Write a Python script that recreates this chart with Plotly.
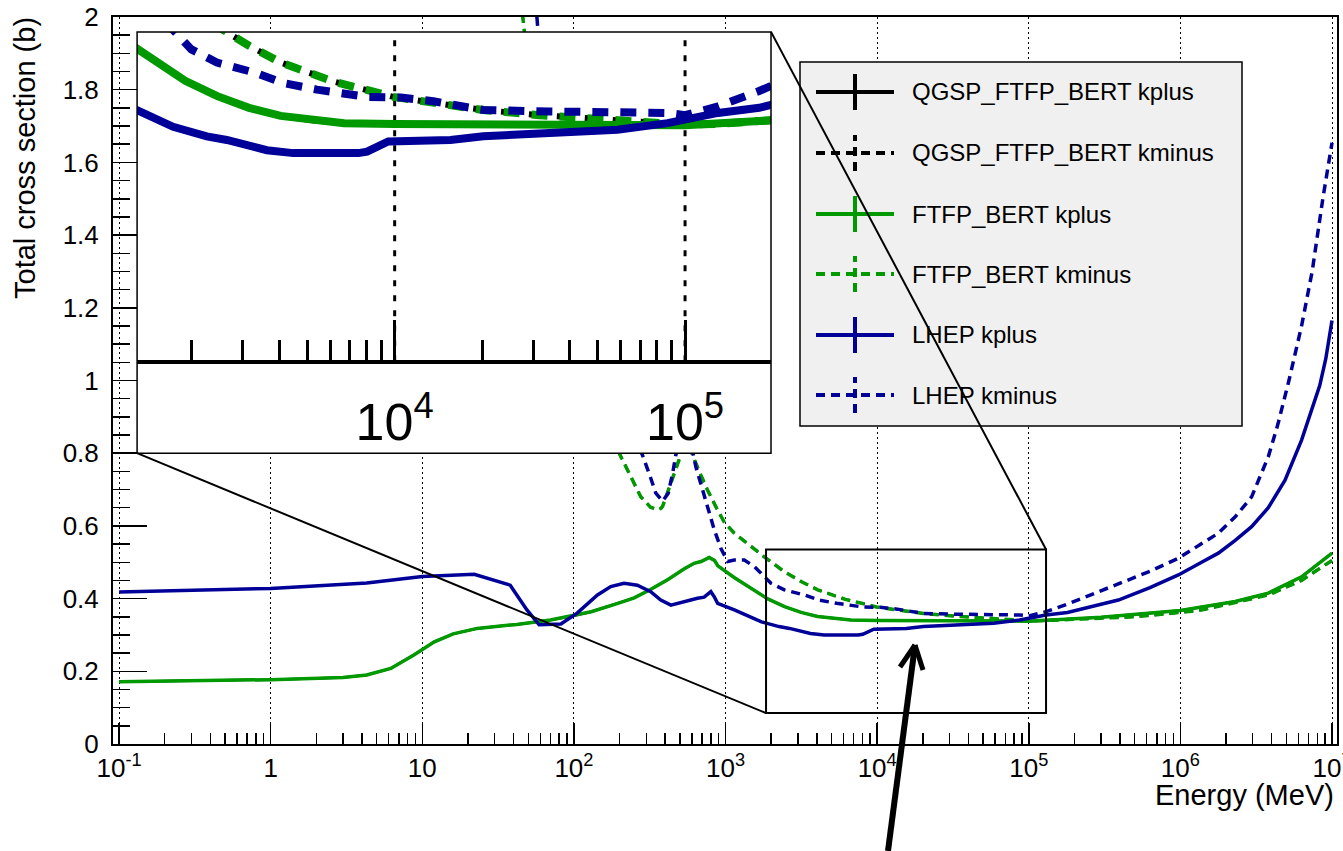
import math
import plotly.graph_objects as go

# ------------------------------------------------------------------
# Data (energy in MeV, total cross section in b)
# ------------------------------------------------------------------
E_ftfp_kplus = [0.1, 1, 3, 4.3, 6.2, 8.8, 12, 16, 23, 42, 70, 100, 130, 195, 250, 320,
                415, 535, 620, 690, 780, 845, 890, 1140, 1470, 1900, 2450, 3150, 4050,
                5200, 6700, 1e4, 3e4, 1e5, 3e5, 1e6, 2.3e6, 3.8e6, 6.3e6, 1e7]
S_ftfp_kplus = [0.171, 0.177, 0.183, 0.190, 0.208, 0.245, 0.281, 0.303, 0.318, 0.329,
                0.341, 0.353, 0.364, 0.387, 0.402, 0.425, 0.452, 0.482, 0.497, 0.502,
                0.513, 0.505, 0.490, 0.458, 0.428, 0.399, 0.378, 0.362, 0.351, 0.345,
                0.341, 0.340, 0.340, 0.338, 0.349, 0.367, 0.392, 0.415, 0.460, 0.525]

E_ftfp_kminus = [0.1, 10, 35, 46, 55, 70, 100, 150, 199, 225, 276, 321, 365, 384, 414,
                 470, 507, 550, 590, 605, 687, 760, 885, 982, 1143, 1400, 1800, 2443,
                 3150, 4055, 6170, 9900, 1.36e4, 2.02e4, 3.16e4, 5.6e4, 1e5, 1.3e5, 2e5,
                 5e5, 1e6, 1.4e6, 3.8e6, 6.3e6, 1e7]
S_ftfp_kminus = [15, 4.5, 2.5, 2.0, 1.7, 1.4, 1.12, 0.92, 0.80, 0.754, 0.68, 0.651,
                 0.644, 0.653, 0.69, 0.757, 0.795, 0.87, 0.81, 0.795, 0.74, 0.699, 0.644,
                 0.61, 0.58, 0.55, 0.515, 0.474, 0.447, 0.424, 0.398, 0.377, 0.369,
                 0.359, 0.352, 0.346, 0.339, 0.340, 0.343, 0.350, 0.362, 0.369, 0.410,
                 0.450, 0.505]

E_lhep_kplus = [0.1, 1, 4.3, 10, 22, 38, 49, 59, 82, 105, 143, 175, 214, 262, 321, 374,
                436, 533, 653, 723, 800, 843, 887, 1143, 1294, 1726, 2254, 2642, 3631,
                4477, 7500, 8035, 9506, 1.556e4, 2.02e4, 3.44e4, 5.85e4, 8.7e4, 1e5,
                1.3e5, 1.8e5, 3.9e5, 6.3e5, 9.7e5, 1.38e6, 1.78e6, 2.3e6, 2.95e6, 3.8e6,
                4.9e6, 6.3e6, 7.4e6, 8.3e6, 9.1e6, 1e7]
S_lhep_kplus = [0.418, 0.428, 0.443, 0.461, 0.467, 0.437, 0.369, 0.328, 0.330, 0.360,
                0.410, 0.433, 0.442, 0.437, 0.419, 0.396, 0.382, 0.392, 0.401, 0.404,
                0.419, 0.405, 0.387, 0.369, 0.359, 0.336, 0.323, 0.318, 0.304, 0.300,
                0.300, 0.302, 0.316, 0.318, 0.323, 0.327, 0.332, 0.341, 0.346, 0.355,
                0.362, 0.396, 0.430, 0.465, 0.500, 0.525, 0.560, 0.598, 0.650, 0.726,
                0.836, 0.920, 0.986, 1.060, 1.165]

E_lhep_kminus = [0.1, 10, 40, 52, 57, 65, 80, 100, 150, 200, 250, 283, 313, 347, 384,
                 419, 448, 470, 525, 575, 637, 687, 760, 843, 933, 1033, 1143, 1330, 1550,
                 1714, 1995, 2443, 3311, 4130, 5400, 8035, 1.05e4, 1.36e4, 2.02e4, 3.44e4,
                 5.85e4, 8.7e4, 1e5, 1.3e5, 1.8e5, 3.9e5, 6.3e5, 9.7e5, 1.38e6, 1.78e6,
                 2.3e6, 2.95e6, 3.8e6, 4.4e6, 5.2e6, 6.3e6, 7.4e6, 8.7e6, 1e7]
S_lhep_kminus = [12, 4.0, 2.6, 2.2, 2.0, 1.7, 1.4, 1.2, 1.0, 0.9, 0.84, 0.795, 0.745,
                 0.69, 0.668, 0.69, 0.745, 0.795, 0.86, 0.85, 0.763, 0.717, 0.653, 0.589,
                 0.538, 0.502, 0.506, 0.506, 0.488, 0.470, 0.442, 0.424, 0.410, 0.396,
                 0.387, 0.377, 0.376, 0.371, 0.359, 0.357, 0.356, 0.355, 0.352, 0.364,
                 0.385, 0.440, 0.475, 0.511, 0.550, 0.580, 0.625, 0.680, 0.790, 0.880,
                 1.000, 1.150, 1.300, 1.500, 1.654]

# QGSP_FTFP_BERT coincides with FTFP_BERT and lies underneath it
E_qgsp_kplus, S_qgsp_kplus = E_ftfp_kplus, S_ftfp_kplus
E_qgsp_kminus, S_qgsp_kminus = E_ftfp_kminus, S_ftfp_kminus

series_names = ["QGSP_FTFP_BERT kplus", "QGSP_FTFP_BERT kminus",
                "FTFP_BERT kplus", "FTFP_BERT kminus",
                "LHEP kplus", "LHEP kminus"]

x_tickvals = [0.1, 1, 10, 100, 1e3, 1e4, 1e5, 1e6, 1e7]
x_ticktext = ["10<sup>-1</sup>", "1", "10", "10<sup>2</sup>", "10<sup>3</sup>",
              "10<sup>4</sup>", "10<sup>5</sup>", "10<sup>6</sup>", "10<sup>7</sup>"]
inset_tickvals = [1e4, 1e5]
inset_ticktext = ["10<sup>4</sup>", "10<sup>5</sup>"]

# ------------------------------------------------------------------
# Styles / layout constants
# ------------------------------------------------------------------
FONT = "Liberation Sans, Arial, Helvetica, sans-serif"
GREEN = "#009900"
BLUE = "#000099"
BLACK = "#000000"
MAIN_DASH = "9px,6px"
INSET_DASH = "16px,12px"

W, H = 1343, 851
ML, MR, MT, MB = 113, 6, 17, 107
X_RANGE_LOG = [-1.040, 7.033]
Y_RANGE = [0, 2]

# inset placement (corners given in main-plot data coordinates)
INSET_X = [0.1315, 1995.0]
INSET_Y = [0.80, 1.959]
INSET_X_RANGE_LOG = [3.113, 5.296]
INSET_Y_RANGE = [-0.111, 0.466]
INSET_AXIS_Y = 0.015

# zoom box in the main plot
ZOOM_X = [1850, 1.3e5]
ZOOM_Y = [0.085, 0.535]


def xpaper(v):
    return (math.log10(v) - X_RANGE_LOG[0]) / (X_RANGE_LOG[1] - X_RANGE_LOG[0])


def ypaper(v):
    return (v - Y_RANGE[0]) / (Y_RANGE[1] - Y_RANGE[0])


def pix(px, py):
    """pixel position of the page -> paper coordinates (for decorations)"""
    return (px - ML) / (W - ML - MR), (H - MB - py) / (H - MT - MB)


inset_xdom = [xpaper(INSET_X[0]), xpaper(INSET_X[1])]
inset_ydom = [ypaper(INSET_Y[0]), ypaper(INSET_Y[1])]
inset_axis_pos = inset_ydom[0] + (INSET_AXIS_Y - INSET_Y_RANGE[0]) / \
    (INSET_Y_RANGE[1] - INSET_Y_RANGE[0]) * (inset_ydom[1] - inset_ydom[0])

curves = [
    (E_qgsp_kplus, S_qgsp_kplus, BLACK, "solid"),
    (E_qgsp_kminus, S_qgsp_kminus, BLACK, "dash"),
    (E_ftfp_kplus, S_ftfp_kplus, GREEN, "solid"),
    (E_ftfp_kminus, S_ftfp_kminus, GREEN, "dash"),
    (E_lhep_kplus, S_lhep_kplus, BLUE, "solid"),
    (E_lhep_kminus, S_lhep_kminus, BLUE, "dash"),
]

fig = go.Figure()

for (name, (ex, sy, col, style)) in zip(series_names, curves):
    under = col == BLACK
    fig.add_trace(go.Scatter(
        x=ex, y=sy, mode="lines", name=name, showlegend=False,
        line=dict(color=col, width=2.5 if under else 3.5,
                  dash=MAIN_DASH if style == "dash" else "solid"),
        xaxis="x", yaxis="y", hoverinfo="skip"))

for (name, (ex, sy, col, style)) in zip(series_names, curves):
    under = col == BLACK
    fig.add_trace(go.Scatter(
        x=ex, y=sy, mode="lines", name=name, showlegend=False,
        line=dict(color=col, width=6 if under else 8,
                  dash=INSET_DASH if style == "dash" else "solid"),
        xaxis="x2", yaxis="y2", hoverinfo="skip"))

shapes = []

# inset grid lines (thick dotted)
for v in inset_tickvals:
    shapes.append(dict(type="line", xref="x2", yref="y2", x0=v, x1=v,
                       y0=INSET_AXIS_Y, y1=INSET_Y_RANGE[1], layer="below",
                       line=dict(color="black", width=3, dash="6px,9px")))

# inset frame
shapes.append(dict(type="rect", xref="paper", yref="paper",
                   x0=inset_xdom[0], x1=inset_xdom[1], y0=inset_ydom[0], y1=inset_ydom[1],
                   layer="above", line=dict(color="black", width=1.5)))

# zoom box in main plot
shapes.append(dict(type="rect", xref="x", yref="y", x0=ZOOM_X[0], x1=ZOOM_X[1],
                   y0=ZOOM_Y[0], y1=ZOOM_Y[1], layer="above",
                   line=dict(color="black", width=2)))

# legend box
LEG_X0, LEG_X1, LEG_Y0, LEG_Y1 = 800, 1242, 62, 426
lx0, ly0 = pix(LEG_X0, LEG_Y1)
lx1, ly1 = pix(LEG_X1, LEG_Y0)
shapes.append(dict(type="rect", xref="paper", yref="paper", x0=lx0, x1=lx1, y0=ly0, y1=ly1,
                   layer="above", fillcolor="#f0f0f0",
                   line=dict(color="black", width=1.5)))

annotations = []
LEG_ROWS = [92, 153, 214, 274, 335, 395]
for name, (ex, sy, col, style), ry in zip(series_names, curves, LEG_ROWS):
    dash = "9px,6px" if style == "dash" else "solid"
    ax0, ay = pix(816, ry)
    ax1, _ = pix(894, ry)
    vx, vy0 = pix(855, ry + 18)
    _, vy1 = pix(855, ry - 18)
    shapes.append(dict(type="line", xref="paper", yref="paper", x0=ax0, x1=ax1, y0=ay, y1=ay,
                       layer="above", line=dict(color=col, width=4, dash=dash)))
    shapes.append(dict(type="line", xref="paper", yref="paper", x0=vx, x1=vx, y0=vy0, y1=vy1,
                       layer="above", line=dict(color=col, width=4, dash=dash)))
    tx, ty = pix(910, ry)
    annotations.append(dict(text=name, xref="paper", yref="paper", x=tx, y=ty,
                            xanchor="left", yanchor="middle", showarrow=False,
                            font=dict(family=FONT, size=24, color="black")))

# connector lines from inset to zoom box
shapes.append(dict(type="line", xref="x", yref="y", x0=INSET_X[0], y0=INSET_Y[0],
                   x1=ZOOM_X[0], y1=ZOOM_Y[0], layer="above",
                   line=dict(color="black", width=2)))
shapes.append(dict(type="line", xref="x", yref="y", x0=INSET_X[1], y0=INSET_Y[1],
                   x1=ZOOM_X[1], y1=ZOOM_Y[1], layer="above",
                   line=dict(color="black", width=2)))

# arrow
tip = pix(915, 645)
tail = pix(888, 851)
armL = pix(900, 667)
armR = pix(923, 670)
for a, b, w in [(tail, tip, 6), (armL, tip, 5), (armR, tip, 5)]:
    shapes.append(dict(type="line", xref="paper", yref="paper", x0=a[0], y0=a[1],
                       x1=b[0], y1=b[1], layer="above",
                       line=dict(color="black", width=w)))

# axis titles
tx, ty = pix(25, 15)
annotations.append(dict(text="Total cross section (b)", xref="paper", yref="paper",
                        x=tx, y=ty, xanchor="center", yanchor="top", textangle=-90,
                        showarrow=False, font=dict(family=FONT, size=29, color="black")))
tx, ty = pix(1336, 795)
annotations.append(dict(text="Energy (MeV)", xref="paper", yref="paper",
                        x=tx, y=ty, xanchor="right", yanchor="middle",
                        showarrow=False, font=dict(family=FONT, size=29, color="black")))

fig.update_layout(
    width=W, height=H,
    margin=dict(l=ML, r=MR, t=MT, b=MB, pad=0, autoexpand=False),
    paper_bgcolor="white", plot_bgcolor="white",
    showlegend=False,
    font=dict(family=FONT, color="black"),
    xaxis=dict(type="log", range=X_RANGE_LOG, domain=[0, 1], anchor="y",
               automargin=False, ticklabeloverflow="allow",
               tickmode="array", tickvals=x_tickvals, ticktext=x_ticktext,
               ticks="inside", ticklen=21, tickwidth=1.5, tickcolor="black",
               tickfont=dict(family=FONT, size=26, color="black"),
               minor=dict(ticks="inside", ticklen=11, tickwidth=1.5, tickcolor="black",
                          dtick="D1", showgrid=False),
               showline=True, linewidth=2, linecolor="black", mirror=True,
               showgrid=True, gridcolor="black", gridwidth=1, griddash="2px,3px",
               zeroline=False),
    yaxis=dict(range=Y_RANGE, domain=[0, 1], anchor="x", automargin=False,
               tickmode="linear", tick0=0, dtick=0.2,
               ticks="inside", ticklen=34, tickwidth=1.5, tickcolor="black",
               tickfont=dict(family=FONT, size=26, color="black"),
               ticklabelstandoff=7,
               minor=dict(ticks="inside", ticklen=17, tickwidth=1.5, tickcolor="black",
                          dtick=0.05, tick0=0),
               showline=True, linewidth=2, linecolor="black", mirror=True,
               showgrid=False, zeroline=False),
    xaxis2=dict(type="log", range=INSET_X_RANGE_LOG, domain=inset_xdom,
                anchor="free", position=inset_axis_pos, automargin=False,
                tickmode="array", tickvals=inset_tickvals, ticktext=inset_ticktext,
                ticks="inside", ticklen=40, tickwidth=3, tickcolor="black",
                tickfont=dict(family=FONT, size=52, color="black"),
                ticklabelstandoff=14,
                minor=dict(ticks="inside", ticklen=20, tickwidth=3, tickcolor="black",
                           dtick="D1", showgrid=False),
                showline=True, linewidth=3.5, linecolor="black",
                showgrid=False, zeroline=False),
    yaxis2=dict(range=INSET_Y_RANGE, domain=inset_ydom, anchor="x2", visible=False),
    shapes=shapes,
    annotations=annotations,
)

fig.write_html(
    "out.html",
    config={"displayModeBar": False, "staticPlot": True},
    post_script="document.body.style.margin='0';document.body.style.padding='0';"
                "document.documentElement.style.overflow='hidden';",
)
